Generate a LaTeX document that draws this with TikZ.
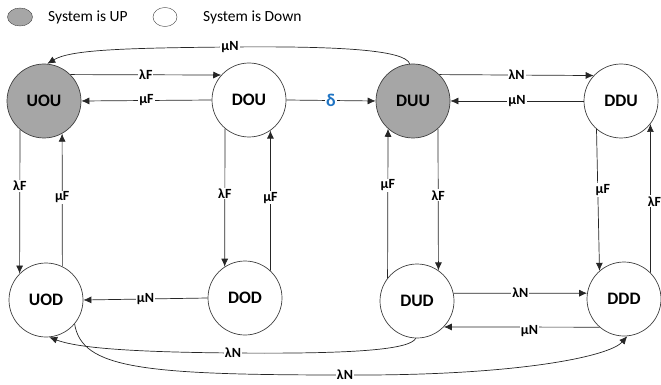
\documentclass[tikz,border=0pt]{standalone}
\usepackage{fontspec}
\setmainfont{Carlito}
\usetikzlibrary{arrows.meta,shapes.geometric}
\definecolor{upgray}{HTML}{A6A6A6}
\definecolor{deltablue}{HTML}{1F74C4}
\tikzset{
  state/.style={circle, draw=black!75, line width=0.7pt, minimum size=74pt, inner sep=0pt, font=\bfseries\fontsize{17.5}{18}\selectfont},
  upstate/.style={state, fill=upgray},
  downstate/.style={state, fill=white},
  conn/.style={draw=black!85, line width=0.7pt, -{Latex[length=8pt,width=7pt]}},
  lbl/.style={fill=white, inner sep=1pt, font=\bfseries\fontsize{14}{15}\selectfont},
  legendtxt/.style={anchor=west, inner sep=0pt, font=\fontsize{15.5}{16}\selectfont},
}
\begin{document}
\begin{tikzpicture}[x=1pt,y=-1pt]
\useasboundingbox (0,0) rectangle (661,385);
% legend
\node[ellipse, draw=black!75, fill=upgray, minimum width=25pt, minimum height=18pt, inner sep=0pt] (legup) at (20,17) {};
\node[legendtxt] (legupt) at (48,17) {System is UP};
\node[ellipse, draw=black!75, fill=white, minimum width=24pt, minimum height=19pt, inner sep=0pt] (legdown) at (165,17) {};
\node[legendtxt] (legdownt) at (203,17) {System is Down};
% states
\node[upstate]   (UOU) at (44,101) {UOU};
\node[downstate] (DOU) at (249,100) {DOU};
\node[upstate]   (DUU) at (413,101) {DUU};
\node[downstate] (DDU) at (621,101) {DDU};
\node[downstate] (UOD) at (46,300) {UOD};
\node[downstate] (DOD) at (245,298) {DOD};
\node[downstate] (DUD) at (417,301) {DUD};
\node[downstate] (DDD) at (624,299) {DDD};
% top row horizontal
\draw[conn] (UOU.45) -- node[lbl]{λF} (DOU.138);
\draw[conn] (DOU.west) -- node[lbl]{μF} (UOU.east);
\draw[conn] (DOU.east) -- node[lbl, text=deltablue, font=\bfseries\fontsize{18}{19}\selectfont]{δ} (DUU.west);
\draw[conn] (DUU.45) -- node[lbl]{λN} (DDU.137);
\draw[conn] (DDU.west) -- node[lbl]{μN} (DUU.east);
% verticals
\draw[conn] (UOU.230) -- node[lbl, pos=0.39]{λF} (UOD.135);
\draw[conn] (UOD.64) -- node[lbl, pos=0.52]{μF} (UOU.299);
\draw[conn] (DOU.230) -- node[lbl, pos=0.47]{λF} (DOD.123);
\draw[conn] (DOD.47) -- node[lbl, pos=0.52]{μF} (DOU.305);
\draw[conn] (DUD.142) -- node[lbl, pos=0.62]{μF} (DUU.228);
\draw[conn] (DUU.312) -- node[lbl, pos=0.47]{λF} (DUD.55);
\draw[conn] (DDU.229) -- node[lbl, pos=0.43, xshift=5pt]{μF} (DDD.131);
\draw[conn] (DDD.45) -- node[lbl, pos=0.48, xshift=4pt]{λF} (DDU.322);
% bottom row horizontal
\draw[conn] (DOD.west) -- node[lbl]{μN} (UOD.east);
\draw[conn] (DUD.12) -- node[lbl]{λN} (DDD.171);
\draw[conn] (DDD.229) -- node[lbl, pos=0.45, yshift=-4pt]{μN} (DUD.316);
% curved
\draw[conn] (DUU.95) .. controls (405,50) and (340,46) .. (230,47)
  node[lbl]{μN} .. controls (120,48) and (70,50) .. (UOU.85);
\draw[conn] (DUD.268) .. controls (410,350) and (350,354) .. (233,353)
  node[lbl]{λN} .. controls (120,352) and (75,347) .. (UOD.275);
\draw[conn] (UOD.-40) .. controls (82,368) and (140,375) .. (345,375)
  node[lbl]{λN} .. controls (520,376) and (610,356) .. (DDD.275);
\end{tikzpicture}
\end{document}
